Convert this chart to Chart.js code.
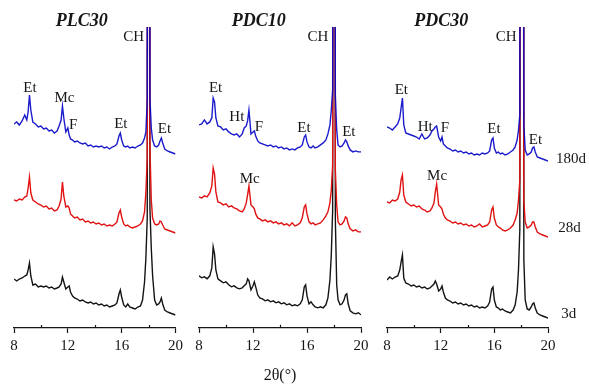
<!DOCTYPE html>
<html>
<head>
<meta charset="utf-8">
<script src="https://cdn.jsdelivr.net/npm/chart.js@4.4.1/dist/chart.umd.min.js"></script>
<style>
  html, body { margin: 0; padding: 0; background: #fff; }
  #wrap { position: relative; width: 589px; height: 385px; overflow: hidden; }
  canvas { position: absolute; top: 0; }
</style>
</head>
<body>
<div id="wrap">
  <canvas id="plc30" width="187" height="385" style="left:0"></canvas>
  <canvas id="pdc10" width="186" height="385" style="left:187px"></canvas>
  <canvas id="pdc30" width="214" height="385" style="left:375px"></canvas>
</div>
<script>
// 2theta grid shared by every pattern (denser around the reflections)
const twoTheta = [8.0, 8.2, 8.4, 8.6, 8.8, 8.95, 9.05, 9.15, 9.25, 9.4,
  9.6, 9.8, 10.0, 10.2, 10.4, 10.6, 10.8, 11.0, 11.2, 11.35,
  11.5, 11.6, 11.7, 11.85, 12.0, 12.1, 12.2, 12.35, 12.5, 12.7,
  12.9, 13.1, 13.3, 13.5, 13.7, 13.9, 14.1, 14.3, 14.5, 14.7,
  14.9, 15.1, 15.3, 15.5, 15.65, 15.8, 15.9, 16.0, 16.15, 16.3,
  16.45, 16.6, 16.8, 17.0, 17.2, 17.4, 17.55, 17.7, 17.8, 17.9,
  18.0, 18.1, 18.2, 18.3, 18.45, 18.6, 18.75, 18.85, 18.95, 19.05,
  19.2, 19.4, 19.6, 19.8, 20.0];

const ages = ['180d', '28d', '3d'];
const ageOffsets = [160, 80, 0];
const ageColors = ['rgba(8,8,200,0.92)', '#e01212', '#141414'];
const xTicks = [8, 12, 16, 20];
const xMinorTicks = [10, 14, 18];

// intensities (a.u.), CH reflection runs off the top
const plc30_180d = [44, 46, 43, 47, 53, 48, 56, 73, 58, 46, 44, 41, 42, 39, 40,
  37, 38, 35, 37, 42, 48, 62, 50, 36, 40, 33, 29, 28, 26, 27, 25, 24, 25, 22, 23,
  21, 22, 21, 22, 20, 21, 19, 21, 22, 24, 32, 35, 28, 22, 21, 22, 20, 21, 20, 22,
  23, 25, 30, 36, 68, 1500, 70, 40, 28, 22, 21, 23, 27, 30, 25, 19, 17, 16, 15, 14];
const plc30_28d = [48, 47, 49, 48, 51, 52, 60, 71, 55, 48, 46, 44, 43, 41, 42,
  39, 40, 37, 38, 42, 49, 66, 52, 41, 42, 40, 34, 32, 30, 31, 28, 29, 26, 27, 25,
  26, 24, 25, 23, 24, 22, 23, 22, 24, 26, 35, 38, 31, 24, 22, 23, 21, 20, 21, 22,
  24, 27, 36, 56, 90, 1500, 100, 48, 30, 24, 23, 24, 27, 26, 23, 19, 18, 17, 16, 15];
const plc30_3d = [49, 47, 49, 50, 52, 53, 58, 65, 52, 43, 44, 41, 42, 41, 42,
  40, 41, 39, 40, 41, 44, 51, 46, 39, 41, 42, 36, 32, 30, 29, 27, 28, 26, 25, 26,
  24, 25, 23, 24, 22, 23, 21, 22, 23, 25, 34, 38, 31, 23, 21, 24, 21, 20, 19, 21,
  22, 28, 46, 70, 110, 1500, 120, 80, 52, 28, 23, 24, 26, 30, 24, 18, 16, 15, 14, 13];

const pdc10_180d = [43, 44, 48, 44, 46, 50, 70, 66, 50, 42, 41, 38, 39, 36, 34,
  33, 34, 31, 34, 40, 42, 47, 58, 34, 36, 37, 32, 27, 25, 24, 23, 22, 23, 21, 22,
  20, 21, 19, 20, 18, 19, 18, 20, 21, 23, 31, 33, 26, 21, 20, 22, 20, 21, 23, 25,
  28, 34, 43, 58, 78, 1500, 73, 38, 23, 21, 22, 25, 28, 26, 22, 18, 16, 17, 16, 16];
const pdc10_28d = [51, 50, 52, 51, 55, 62, 80, 74, 56, 46, 45, 43, 44, 41, 42,
  40, 39, 37, 36, 39, 45, 53, 62, 43, 41, 39, 34, 30, 29, 27, 28, 26, 27, 25, 26,
  24, 25, 23, 24, 22, 25, 22, 23, 25, 30, 41, 43, 34, 26, 24, 25, 23, 24, 25, 28,
  32, 36, 45, 58, 83, 1500, 78, 43, 26, 23, 24, 27, 31, 30, 24, 19, 17, 18, 16, 16];
const pdc10_3d = [52, 50, 51, 49, 52, 60, 81, 74, 58, 49, 47, 45, 46, 43, 41,
  42, 40, 39, 40, 42, 44, 49, 47, 38, 42, 46, 41, 33, 30, 29, 27, 28, 26, 27, 25,
  26, 24, 25, 23, 24, 22, 23, 22, 24, 28, 41, 43, 32, 24, 26, 23, 21, 20, 21, 20,
  23, 30, 48, 73, 118, 1500, 108, 43, 28, 23, 24, 28, 33, 34, 24, 17, 15, 14, 15, 13];

const pdc30_180d = [41, 40, 38, 41, 44, 50, 60, 70, 43, 35, 34, 33, 32, 31, 29,
  34, 29, 30, 33, 37, 39, 41, 42, 31, 27, 31, 24, 22, 20, 19, 17, 18, 16, 17, 15,
  16, 14, 15, 13, 14, 13, 15, 14, 15, 17, 28, 30, 20, 15, 16, 14, 15, 13, 14, 16,
  18, 21, 28, 38, 53, 1500, 1500, 43, 18, 13, 14, 16, 20, 21, 16, 11, 10, 9, 8, 7];
const pdc30_28d = [46, 45, 48, 47, 49, 56, 68, 73, 53, 46, 44, 42, 43, 41, 42,
  39, 38, 36, 37, 40, 45, 56, 64, 43, 41, 39, 34, 30, 28, 27, 25, 26, 24, 25, 23,
  24, 22, 23, 21, 22, 24, 21, 22, 23, 26, 38, 41, 30, 23, 21, 20, 18, 17, 18, 20,
  23, 28, 35, 48, 68, 1500, 1500, 48, 26, 20, 21, 23, 26, 26, 21, 16, 14, 13, 12, 11];
const pdc30_3d = [48, 51, 49, 51, 52, 58, 66, 73, 50, 45, 44, 42, 43, 41, 42,
  40, 41, 39, 40, 42, 44, 47, 44, 37, 39, 42, 36, 30, 28, 27, 25, 26, 24, 25, 23,
  24, 22, 23, 21, 22, 20, 21, 20, 22, 26, 39, 41, 28, 21, 20, 18, 19, 17, 16, 15,
  18, 23, 36, 58, 98, 1500, 1500, 68, 28, 19, 18, 21, 24, 25, 20, 15, 13, 12, 11, 10];

// phase labels: [text, 2theta, height on the stacked scale]
const plc30Peaks = [['Et', 9.18, 240], ['Mc', 11.75, 230], ['F', 12.4, 203],
  ['Et', 15.94, 204], ['Et', 19.18, 199], ['CH', 16.9, 291]];
const pdc10Peaks = [['Et', 9.23, 240], ['Ht', 10.8, 211], ['F', 12.43, 201],
  ['Et', 15.77, 200], ['Et', 19.1, 196], ['CH', 16.8, 291], ['Mc', 11.76, 149]];
const pdc30Peaks = [['Et', 9.07, 238], ['Ht', 10.85, 201], ['F', 12.32, 200],
  ['Et', 15.97, 199], ['Et', 19.07, 188], ['CH', 16.89, 291], ['Mc', 11.73, 152]];
// curing age tags, left-aligned just right of the last panel
const ageTags = [['180d', 20.6, 169], ['28d', 20.76, 100], ['3d', 20.98, 14]];

const SERIF = '"Liberation Serif", "Times New Roman", serif';

// text labels, sample names and the small inward minor ticks
const annotate = {
  id: 'annotate',
  afterDraw(chart, args, opts) {
    const { ctx, chartArea } = chart;
    const x = chart.scales.x, y = chart.scales.y;
    ctx.save();
    ctx.fillStyle = '#161616';
    ctx.textAlign = 'center';
    ctx.textBaseline = 'middle';

    ctx.font = '15px ' + SERIF;
    opts.notes.forEach(([text, at, level]) => {
      ctx.fillText(text, x.getPixelForValue(at), y.getPixelForValue(level));
    });

    ctx.font = 'italic bold 18px ' + SERIF;
    ctx.fillText(opts.name, x.getPixelForValue(opts.nameAt[0]), y.getPixelForValue(opts.nameAt[1]));

    ctx.textAlign = 'left';
    ctx.font = '15px ' + SERIF;
    (opts.tags || []).forEach(([text, at, level]) => {
      ctx.fillText(text, x.getPixelForValue(at), y.getPixelForValue(level));
    });

    ctx.strokeStyle = '#161616';
    ctx.lineWidth = 1.2;
    xMinorTicks.forEach(v => {
      const px = Math.round(x.getPixelForValue(v)) + 0.5;
      ctx.beginPath();
      ctx.moveTo(px, chartArea.bottom);
      ctx.lineTo(px, chartArea.bottom - 3);
      ctx.stroke();
    });
    ctx.restore();
  }
};

function makePanel(id, name, nameAt, series, notes, opts) {
  const datasets = series.map((vals, i) => ({
    label: ages[i],
    data: vals.map(v => v + ageOffsets[i]),
    borderColor: ageColors[i],
    borderWidth: 1.4,
    pointRadius: 0,
    tension: 0,
    fill: false
  }));

  new Chart(document.getElementById(id), {
    type: 'line',
    data: { labels: twoTheta, datasets: datasets },
    plugins: [annotate],
    options: {
      responsive: false,
      animation: false,
      layout: { padding: opts.padding },
      scales: {
        x: {
          type: 'linear',
          min: 8,
          max: 20,
          ticks: {
            stepSize: 2,
            padding: 4,
            autoSkip: false,
            maxRotation: 0,
            color: '#161616',
            font: { family: SERIF, size: 15 },
            callback: v => (xTicks.includes(v) ? v : '')
          },
          grid: {
            drawOnChartArea: false,
            tickLength: 5,
            tickWidth: 1.2,
            tickColor: c => (c.tick && xTicks.includes(c.tick.value) ? '#161616' : 'rgba(0,0,0,0)')
          },
          border: { color: '#161616', width: 1.3 },
          title: {
            display: !!opts.axisTitle,
            text: opts.axisTitle || '',
            color: '#161616',
            font: { family: SERIF, size: 16 },
            padding: { top: 7, bottom: 0 }
          }
        },
        y: { display: false, min: 0, max: 301 }
      },
      plugins: {
        legend: { display: false },
        tooltip: { enabled: false },
        annotate: { name: name, nameAt: nameAt, notes: notes, tags: opts.tags }
      }
    }
  });
}

makePanel('plc30', 'PLC30', [13.04, 307], [plc30_180d, plc30_28d, plc30_3d], plc30Peaks,
  { padding: { top: 27, left: 14, right: 10, bottom: 26 } });
makePanel('pdc10', 'PDC10', [12.43, 307], [pdc10_180d, pdc10_28d, pdc10_3d], pdc10Peaks,
  { padding: { top: 27, left: 12, right: 12, bottom: 0 }, axisTitle: '2θ(°)' });
makePanel('pdc30', 'PDC30', [12.05, 307], [pdc30_180d, pdc30_28d, pdc30_3d], pdc30Peaks,
  { padding: { top: 27, left: 12, right: 41, bottom: 26 }, tags: ageTags });
</script>
</body>
</html>
